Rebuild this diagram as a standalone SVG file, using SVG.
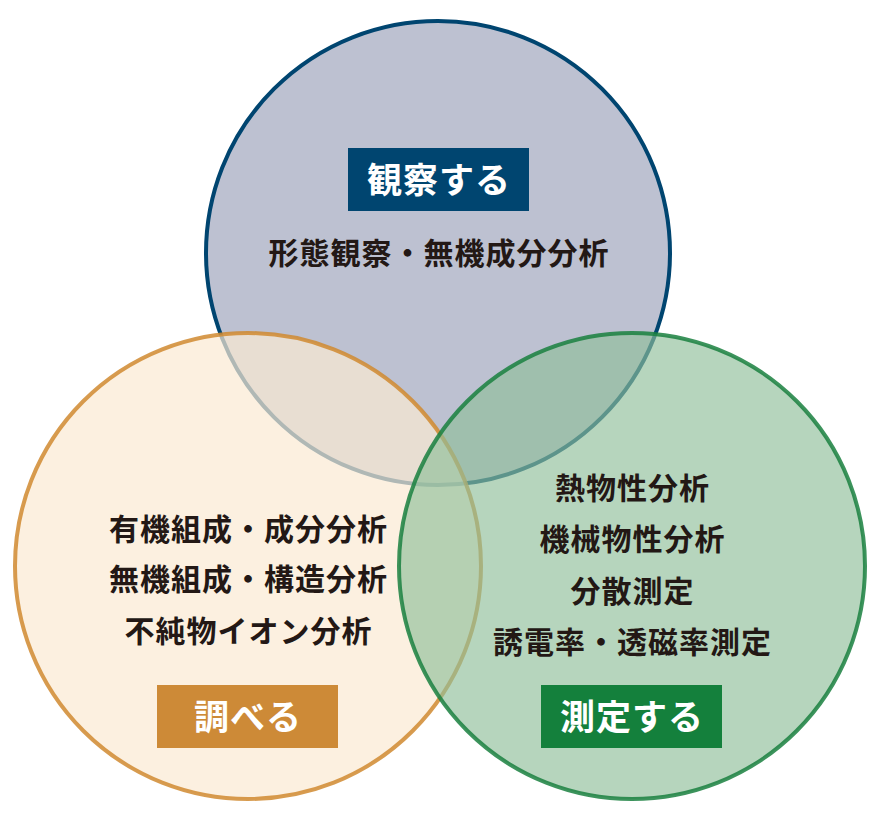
<svg xmlns="http://www.w3.org/2000/svg" width="880" height="820" viewBox="0 0 880 820">
<style>
.t{font-family:"Noto Sans CJK JP","Noto Sans CJK SC",sans-serif;font-weight:700;font-size:30px;letter-spacing:1px;fill:#231815;text-anchor:middle}
.h{font-family:"Noto Sans CJK JP","Noto Sans CJK SC",sans-serif;font-weight:700;font-size:35px;letter-spacing:1px;fill:#ffffff;text-anchor:middle}
</style>
<rect width="880" height="820" fill="#ffffff"/>
<g id="observe">
<circle cx="438" cy="253" r="232" fill="#bdc1d1" stroke="#004570" stroke-width="4"/>
</g>
<g id="investigate">
<circle cx="248" cy="566" r="233" fill="#fbe9d3" fill-opacity="0.7" stroke="#d08a30" stroke-width="4" stroke-opacity="0.85"/>
</g>
<g id="measure">
<circle cx="632" cy="566" r="233" fill="#8fbf9a" fill-opacity="0.65" stroke="#1a8040" stroke-width="4" stroke-opacity="0.85"/>
</g>
<g id="observe-labels">
<rect x="348" y="148" width="181" height="63" fill="#004570"/>
<text class="h" x="439" y="193">観察する</text>
<text class="t" x="439" y="264">形態観察・無機成分分析</text>
</g>
<g id="investigate-labels">
<text class="t" x="248.5" y="540">有機組成・成分分析</text>
<text class="t" x="248.5" y="590">無機組成・構造分析</text>
<text class="t" x="248.5" y="642">不純物イオン分析</text>
<rect x="157" y="685" width="181" height="63" fill="#cd8a37"/>
<text class="h" x="248" y="730">調べる</text>
</g>
<g id="measure-labels">
<text class="t" x="632.5" y="499">熱物性分析</text>
<text class="t" x="632.5" y="550">機械物性分析</text>
<text class="t" x="632.5" y="602">分散測定</text>
<text class="t" x="632.5" y="653">誘電率・透磁率測定</text>
<rect x="541" y="685" width="181" height="63" fill="#14803c"/>
<text class="h" x="632" y="730">測定する</text>
</g>
<g id="connectors"></g>
</svg>
